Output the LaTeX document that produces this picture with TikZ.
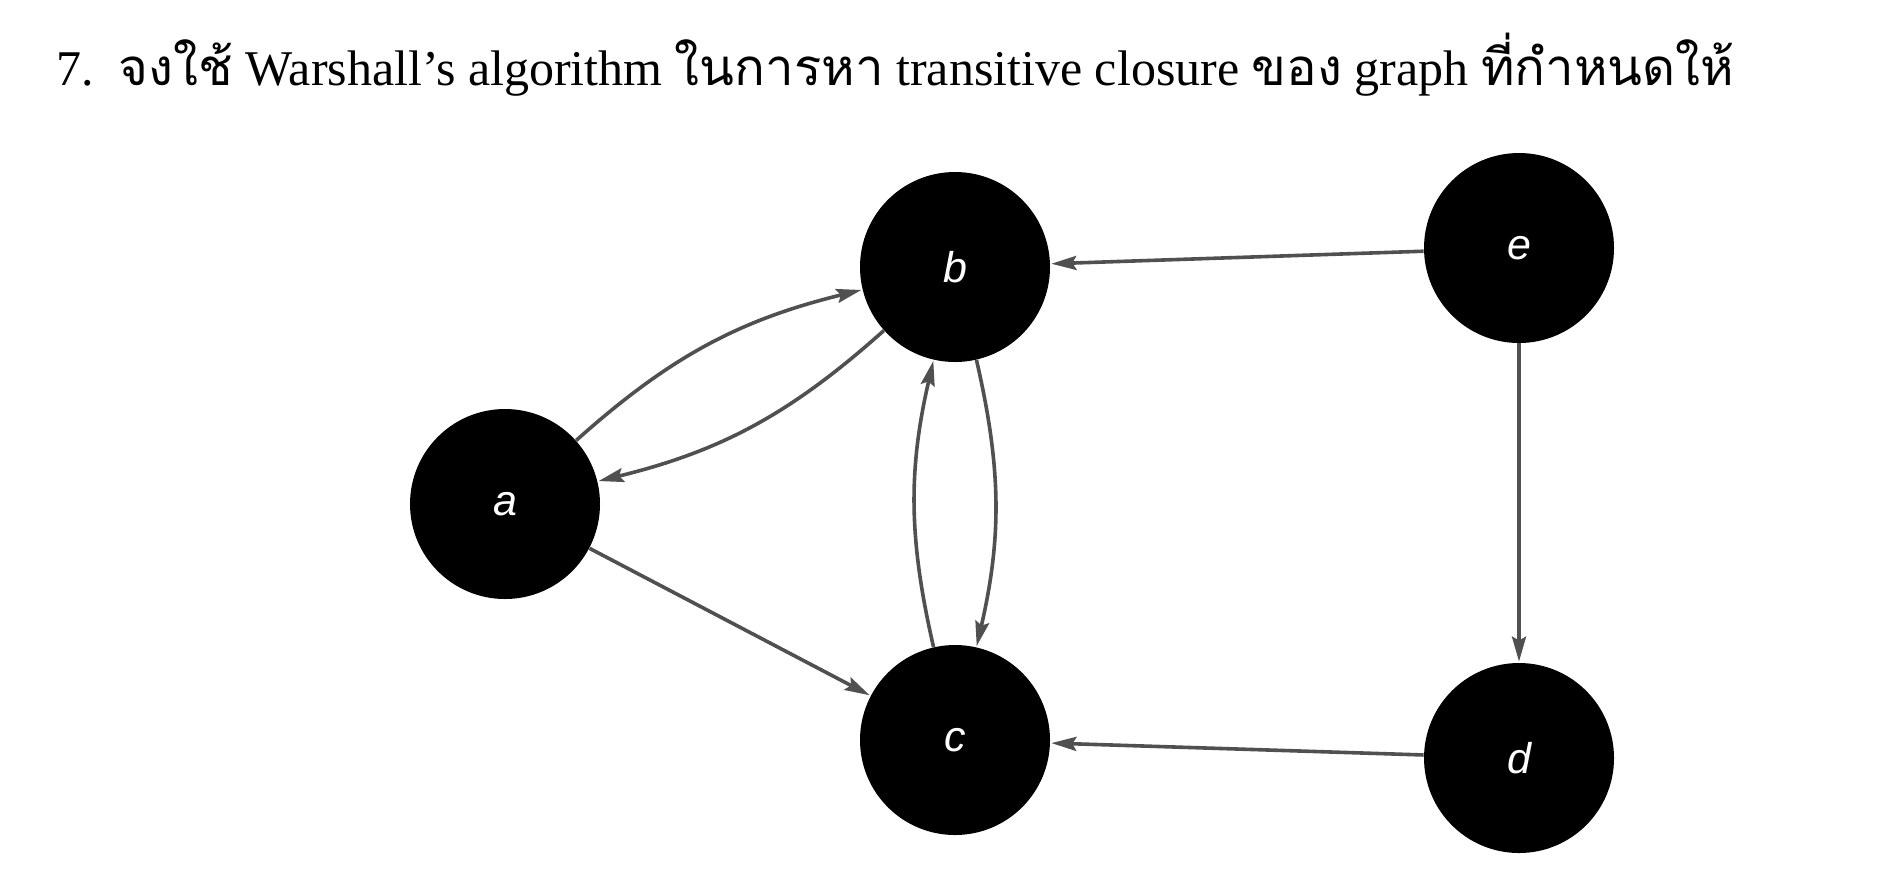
\documentclass[tikz,border=0pt]{standalone}
\usepackage{fontspec}
\setmainfont{Liberation Serif}
\setsansfont{Liberation Sans}
\newfontfamily\thaifont[Script=Thai,Scale=1.02]{Loma}
\usetikzlibrary{arrows.meta}
\newcommand\tht[1]{{\thaifont #1}}
\definecolor{edgegray}{HTML}{505050}
\begin{document}
\begin{tikzpicture}[x=0.5pt,y=-0.5pt,
  vertex/.style={circle,fill=black,draw=none,minimum size=95pt,inner sep=0pt,
    text=white,font=\sffamily\itshape\fontsize{21.5}{26}\selectfont},
  edge/.style={draw=edgegray,line width=1.8pt,
    -{Stealth[length=12.5pt,width=7pt,inset=2pt]},shorten >=0.5pt}]
\useasboundingbox (0,0) rectangle (1898,880);
\node[anchor=base west,inner sep=0pt,font=\fontsize{25}{30}\selectfont] (title) at (56,85)
  {7.\ \ \tht{จงใช้} Warshall’s algorithm \tht{ในการหา} transitive closure \tht{ของ} graph \tht{ที่กำหนดให้}};
\node[vertex] (a) at (505,504) {a};
\node[vertex] (b) at (955,267) {b};
\node[vertex] (c) at (955,740) {c};
\node[vertex] (e) at (1519,248) {e};
\node[vertex] (d) at (1519,758) {d};
\draw[edge] (a) to[bend left=14] (b);
\draw[edge] (b) to[bend left=14] (a);
\draw[edge] (c) to[bend left=13] (b);
\draw[edge] (b) to[bend left=13] (c);
\draw[edge] (a) -- (c);
\draw[edge] (e) -- (b);
\draw[edge] (e) -- (d);
\draw[edge] (d) -- (c);
\end{tikzpicture}
\end{document}
